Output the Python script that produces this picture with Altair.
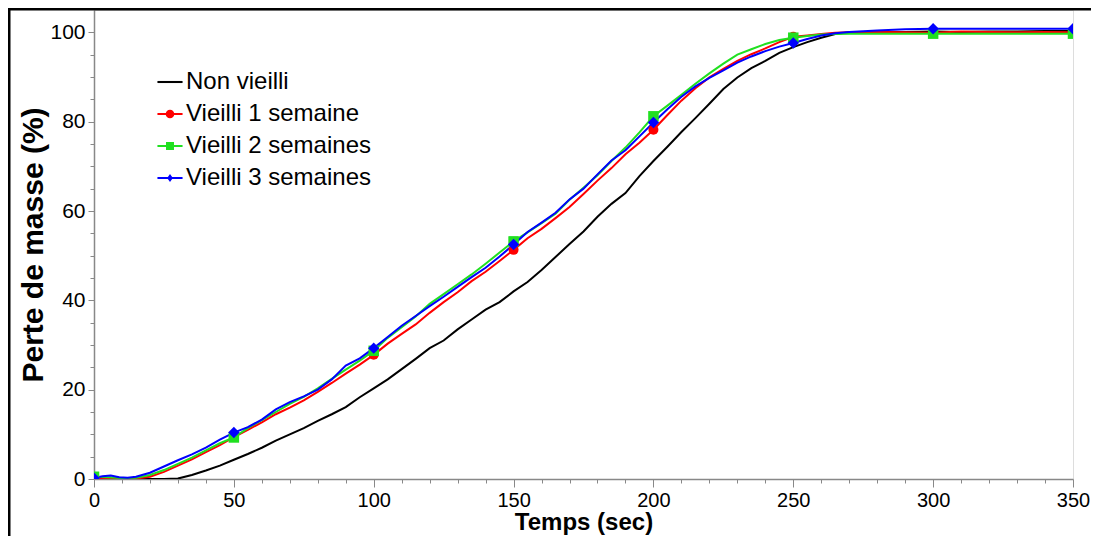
import altair as alt
import pandas as pd

series_names = ["Non vieilli", "Vieilli 1 semaine", "Vieilli 2 semaines", "Vieilli 3 semaines"]
series_colors = ["#000000", "#FF0000", "#20E020", "#0000FF"]

t_grid = [0, 5, 10, 15, 20, 25, 30, 35, 40, 45, 50, 55, 60, 65, 70, 75, 80, 85, 90, 95,
          100, 105, 110, 115, 120, 125, 130, 135, 140, 145, 150, 155, 160, 165, 170, 175,
          180, 185, 190, 195, 200, 205, 210, 215, 220, 225, 230, 235, 240, 245, 250, 255,
          260, 265, 270, 280, 290, 300, 310, 320, 330, 340, 350]

v_black = [0, 0, 0, 0, 0, 0, 0.1, 0.9, 1.9, 3.0, 4.3, 5.6, 7.0, 8.6, 10.0, 11.4, 13.0, 14.5, 16.1, 18.3,
           20.3, 22.3, 24.6, 26.9, 29.3, 31.0, 33.5, 35.7, 37.9, 39.6, 42.0, 44.1, 46.8, 49.7, 52.6, 55.4,
           58.7, 61.6, 64.0, 67.8, 71.2, 74.4, 77.7, 80.8, 84.0, 87.3, 89.9, 92.0, 93.6, 95.4, 96.7, 97.8,
           98.8, 99.6, 100.0, 100.1, 100.1, 100.2, 100.1, 100.2, 100.2, 100.3, 100.3]

v_red = [0, 0, 0, 0.1, 0.5, 1.6, 3.0, 4.4, 6.0, 7.6, 9.4, 11.0, 12.7, 14.5, 16.0, 17.6, 19.5, 21.5, 23.6, 25.6,
         27.8, 30.3, 32.5, 34.6, 37.2, 39.6, 41.8, 44.3, 46.4, 48.8, 51.3, 53.9, 56.0, 58.4, 60.9, 63.8,
         66.8, 69.6, 72.7, 75.3, 78.2, 81.5, 84.7, 87.5, 89.9, 91.8, 93.6, 95.1, 96.4, 97.8, 99.0, 99.3,
         99.6, 99.9, 100.0, 100.1, 100.0, 99.9, 100.2, 100.1, 100.0, 100.1, 100.0]

v_green = [0.5, 0.4, 0.2, 0.3, 0.9, 2.0, 3.4, 4.8, 6.4, 8.0, 9.3, 11.4, 13.2, 15.0, 16.8, 18.4, 20.3, 22.4, 24.5, 26.5,
           28.7, 31.6, 34.0, 36.4, 39.2, 41.4, 43.6, 45.8, 48.2, 50.7, 53.2, 55.2, 57.3, 59.4, 62.5, 65.2,
           68.0, 71.2, 74.2, 77.6, 81.2, 83.6, 86.0, 88.5, 90.8, 93.0, 95.0, 96.2, 97.4, 98.3, 98.8, 99.2,
           99.5, 99.6, 99.7, 99.7, 99.7, 99.7, 99.7, 99.7, 99.7, 99.7, 99.7]

t_blue = [0, 3, 6, 9, 12, 15, 20, 25, 30, 35, 40, 45, 50, 55, 60, 65, 70, 75, 80, 85, 90, 95,
          100, 105, 110, 115, 120, 125, 130, 135, 140, 145, 150, 155, 160, 165, 170, 175,
          180, 185, 190, 195, 200, 205, 210, 215, 220, 225, 230, 235, 240, 245, 250, 255,
          260, 265, 270, 280, 290, 300, 310, 320, 330, 340, 350]
v_blue = [0.2, 0.6, 0.8, 0.4, 0.3, 0.5, 1.4, 2.8, 4.2, 5.5, 7.0, 8.8, 10.4, 11.6, 13.3, 15.6, 17.2, 18.5, 20.0, 22.3, 25.4, 27.0,
          29.3, 31.8, 34.3, 36.5, 38.7, 40.8, 43.0, 45.2, 47.3, 49.8, 52.5, 55.3, 57.4, 59.6, 62.6, 65.0,
          68.2, 71.3, 73.6, 76.7, 79.8, 82.8, 85.6, 87.9, 89.8, 91.5, 93.2, 94.6, 95.8, 96.8, 97.6, 98.5,
          99.3, 99.8, 100.1, 100.4, 100.7, 100.8, 100.8, 100.8, 100.8, 100.8, 100.8]

x_ticks = list(range(0, 351, 10))
y_ticks = list(range(0, 101, 5))

rows = []
for name, ts, vs in [(series_names[0], t_grid, v_black), (series_names[1], t_grid, v_red),
                     (series_names[2], t_grid, v_green), (series_names[3], t_blue, v_blue)]:
    for t, v in zip(ts, vs):
        rows.append({"t": t, "v": v, "series": name})
df = pd.DataFrame(rows)

FONT = "Liberation Sans"

x_enc = alt.X("t:Q", scale=alt.Scale(domain=[0, 350], nice=False, zero=False),
              axis=alt.Axis(values=x_ticks, labelExpr="datum.value % 50 === 0 ? datum.label : ''",
                            tickSize={"condition": {"test": "datum.value % 50 === 0", "value": 8}, "value": 4},
                            title="Temps (sec)", titleFontSize=24, titleFont=FONT, titleFontWeight="bold",
                            titleColor="black", titlePadding=0,
                            labelFontSize=20, labelFont=FONT, labelColor="black", labelPadding=3,
                            labelFlush=False, labelOverlap=False, grid=False,
                            domainColor="#888888", domainWidth=1.5, tickColor="#888888", tickWidth=1))
y_enc = alt.Y("v:Q", scale=alt.Scale(domain=[0, 105], nice=False),
              axis=alt.Axis(values=y_ticks, labelExpr="datum.value % 20 === 0 ? datum.label : ''",
                            tickSize={"condition": {"test": "datum.value % 20 === 0", "value": 6}, "value": 4},
                            title="Perte de masse (%)", titleFontSize=30, titleFont=FONT, titleFontWeight="bold",
                            titleColor="black", titlePadding=1,
                            labelFontSize=21, labelFont=FONT, labelColor="black", labelPadding=3,
                            labelFlush=False, labelOverlap=False, grid=False,
                            domainColor="#888888", domainWidth=1.5, tickColor="#888888", tickWidth=1))

color_scale = alt.Scale(domain=series_names, range=series_colors)

legend_shapes = [
    "M-1.45,-0.12H1.45V0.12H-1.45Z",
    "M-1.45,-0.12H1.45V0.12H-1.45Z M-0.5,0A0.5,0.5,0,1,1,0.5,0A0.5,0.5,0,1,1,-0.5,0Z",
    "M-1.45,-0.12H1.45V0.12H-1.45Z M-0.46,-0.46H0.46V0.46H-0.46Z",
    "M-1.45,-0.12H1.45V0.12H-1.45Z M0,-0.46L0.33,0L0,0.46L-0.33,0Z",
]
shape_scale = alt.Scale(domain=series_names, range=legend_shapes)

legend = alt.Legend(title=None, orient="none", legendX=64, legendY=60, padding=0,
                    labelFontSize=24, labelFont=FONT, labelColor="black", labelLimit=400,
                    symbolSize=300, symbolStrokeWidth=0, labelOffset=4, rowPadding=8)

base = alt.Chart(df)

lines = base.mark_line(strokeWidth=2, clip=True).encode(
    x=x_enc, y=y_enc,
    color=alt.Color("series:N", scale=color_scale, legend=None),
    detail="series:N",
    order="t:Q",
)

marker_specs = [(series_names[1], "circle", 100), (series_names[2], "square", 110), (series_names[3], "diamond", 130)]
markers = []
for name, shp, sz in marker_specs:
    markers.append(
        base.transform_filter(
            (alt.datum.series == name) & (alt.datum.t % 50 == 0)
        ).mark_point(shape=shp, filled=True, size=sz, opacity=1, clip=True).encode(
            x=x_enc, y=y_enc,
            color=alt.Color("series:N", scale=color_scale, legend=None),
        )
    )

legend_layer = base.transform_filter("false").mark_point(filled=True, opacity=1, size=300).encode(
    x=x_enc, y=y_enc,
    color=alt.Color("series:N", scale=color_scale, legend=legend),
    shape=alt.Shape("series:N", scale=shape_scale, legend=legend),
)

frame = alt.Chart(pd.DataFrame({"a": [1]})).mark_rect(
    fillOpacity=0, stroke="black", strokeWidth=3, clip=False
).encode(
    x=alt.value(-85), x2=alt.value(1100), y=alt.value(-1), y2=alt.value(600)
)

chart = alt.layer(lines, *markers, legend_layer, frame).resolve_legend(
    color="independent", shape="independent"
).properties(
    width=979, height=469,
    padding={"left": 86, "top": 2, "right": 18, "bottom": 57},
    autosize=alt.AutoSizeParams(type="none"),
).configure_view(stroke=None).configure(font=FONT)

chart.save("out.html", embed_options={"renderer": "svg", "actions": False})
